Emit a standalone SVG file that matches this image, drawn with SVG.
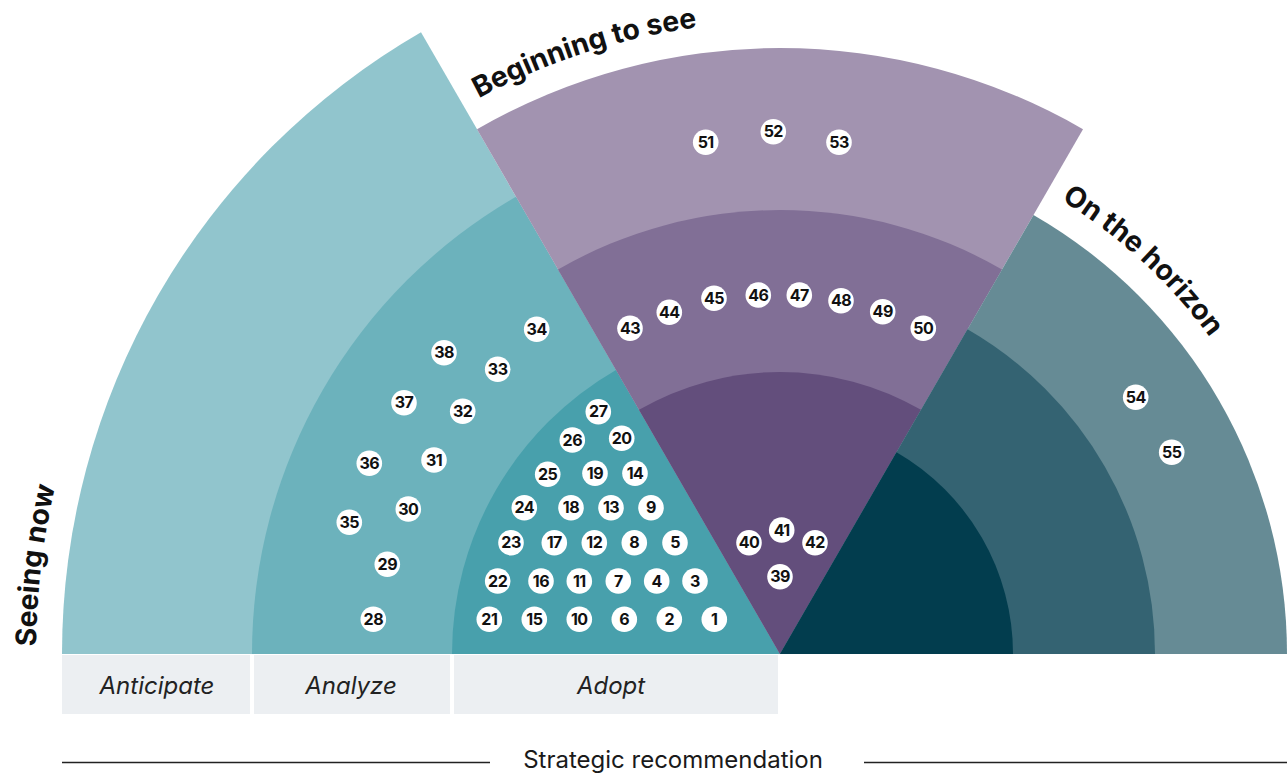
<svg xmlns="http://www.w3.org/2000/svg" width="1287" height="774" viewBox="0 0 1287 774">
<style>
.dot{fill:#fff}
.num{font-family:Inter,"Liberation Sans",sans-serif;font-weight:700;font-size:16px;fill:#111;text-anchor:middle;letter-spacing:-0.5px}
.lbl{font-family:Inter,"Liberation Sans",sans-serif;font-weight:700;font-size:28.4px;fill:#111}
.col{font-family:Inter,"Liberation Sans",sans-serif;font-style:italic;font-size:24px;fill:#222;text-anchor:middle}
.box{fill:#eceff2}
.ax{font-family:Inter,"Liberation Sans",sans-serif;font-size:24px;fill:#1a1a1a;text-anchor:middle}
</style>
<defs>
<path id="arcSee" d="M96.2,947.1 A744,744 0 0,1 184.3,208.3"/>
<path id="arcBeg" d="M310.3,231.1 A632,632 0 0,1 911.4,35.8"/>
<path id="arcHor" d="M897.4,133.1 A534,534 0 0,1 1289.9,495.2"/>
</defs>
<g id="sector-seeing-now">
<path d="M780,654 L62,654 A718,718 0 0,1 421,32.2 Z" fill="#91c5cd"/>
<path d="M780,654 L252,654 A528,528 0 0,1 516,196.7 Z" fill="#6cb2bc"/>
<path d="M780,654 L452,654 A328,328 0 0,1 616,369.9 Z" fill="#48a0ac"/>
</g>
<g id="sector-beginning">
<path d="M780,654 L477,129.2 A606,606 0 0,1 1083,129.2 Z" fill="#a293b0"/>
<path d="M780,654 L558,269.5 A444,444 0 0,1 1002,269.5 Z" fill="#816f96"/>
<path d="M780,654 L639,409.8 A282,282 0 0,1 921,409.8 Z" fill="#634e7c"/>
</g>
<g id="sector-horizon">
<path d="M780,654 L1033.5,214.9 A507,507 0 0,1 1287,654 Z" fill="#668b95"/>
<path d="M780,654 L967.5,329.2 A375,375 0 0,1 1155,654 Z" fill="#346372"/>
<path d="M780,654 L896.5,452.2 A233,233 0 0,1 1013,654 Z" fill="#023d4e"/>
</g>
<g id="labels">
<text class="lbl" text-anchor="middle"><textPath href="#arcSee" startOffset="50%">Seeing now</textPath></text>
<text class="lbl" text-anchor="middle"><textPath href="#arcBeg" startOffset="50%">Beginning to see</textPath></text>
<text class="lbl" text-anchor="middle"><textPath href="#arcHor" startOffset="50%">On the horizon</textPath></text>
</g>
<g id="columns">
<rect class="box" x="62" y="655" width="188" height="59"/>
<rect class="box" x="254" y="655" width="196" height="59"/>
<rect class="box" x="454" y="655" width="324" height="59"/>
<text class="col" x="157" y="694">Anticipate</text>
<text class="col" x="351" y="694">Analyze</text>
<text class="col" x="611" y="694">Adopt</text>
</g>
<g id="connectors">
<line x1="62" y1="762.5" x2="490" y2="762.5" stroke="#222" stroke-width="1.3"/>
<line x1="864" y1="762.5" x2="1287" y2="762.5" stroke="#222" stroke-width="1.3"/>
</g>
<text class="ax" x="673" y="768">Strategic recommendation</text>
<g id="points">
<g id="n1"><circle class="dot" cx="714.3" cy="619.3" r="12.8"/><text class="num" x="714.3" y="625">1</text></g>
<g id="n2"><circle class="dot" cx="669.3" cy="619.3" r="12.8"/><text class="num" x="669.3" y="625">2</text></g>
<g id="n3"><circle class="dot" cx="695" cy="581" r="12.8"/><text class="num" x="695" y="586.7">3</text></g>
<g id="n4"><circle class="dot" cx="656.7" cy="581" r="12.8"/><text class="num" x="656.7" y="586.7">4</text></g>
<g id="n5"><circle class="dot" cx="675" cy="542.7" r="12.8"/><text class="num" x="675" y="548.4">5</text></g>
<g id="n6"><circle class="dot" cx="624.3" cy="619.3" r="12.8"/><text class="num" x="624.3" y="625">6</text></g>
<g id="n7"><circle class="dot" cx="618.3" cy="581" r="12.8"/><text class="num" x="618.3" y="586.7">7</text></g>
<g id="n8"><circle class="dot" cx="634.3" cy="542.7" r="12.8"/><text class="num" x="634.3" y="548.4">8</text></g>
<g id="n9"><circle class="dot" cx="651" cy="507.7" r="12.8"/><text class="num" x="651" y="513.4">9</text></g>
<g id="n10"><circle class="dot" cx="579.3" cy="619.3" r="12.8"/><text class="num" x="579.3" y="625">10</text></g>
<g id="n11"><circle class="dot" cx="579.3" cy="581" r="12.8"/><text class="num" x="579.3" y="586.7">11</text></g>
<g id="n12"><circle class="dot" cx="594.3" cy="542.7" r="12.8"/><text class="num" x="594.3" y="548.4">12</text></g>
<g id="n13"><circle class="dot" cx="611" cy="507.7" r="12.8"/><text class="num" x="611" y="513.4">13</text></g>
<g id="n14"><circle class="dot" cx="635" cy="473.3" r="12.8"/><text class="num" x="635" y="479">14</text></g>
<g id="n15"><circle class="dot" cx="534.3" cy="619.3" r="12.8"/><text class="num" x="534.3" y="625">15</text></g>
<g id="n16"><circle class="dot" cx="541" cy="581" r="12.8"/><text class="num" x="541" y="586.7">16</text></g>
<g id="n17"><circle class="dot" cx="554.3" cy="542.7" r="12.8"/><text class="num" x="554.3" y="548.4">17</text></g>
<g id="n18"><circle class="dot" cx="571" cy="507.7" r="12.8"/><text class="num" x="571" y="513.4">18</text></g>
<g id="n19"><circle class="dot" cx="595" cy="473.3" r="12.8"/><text class="num" x="595" y="479">19</text></g>
<g id="n20"><circle class="dot" cx="621.7" cy="438.3" r="12.8"/><text class="num" x="621.7" y="444">20</text></g>
<g id="n21"><circle class="dot" cx="489.3" cy="619.3" r="12.8"/><text class="num" x="489.3" y="625">21</text></g>
<g id="n22"><circle class="dot" cx="497.7" cy="581" r="12.8"/><text class="num" x="497.7" y="586.7">22</text></g>
<g id="n23"><circle class="dot" cx="511" cy="542.7" r="12.8"/><text class="num" x="511" y="548.4">23</text></g>
<g id="n24"><circle class="dot" cx="524.3" cy="507.7" r="12.8"/><text class="num" x="524.3" y="513.4">24</text></g>
<g id="n25"><circle class="dot" cx="547.7" cy="474.3" r="12.8"/><text class="num" x="547.7" y="480">25</text></g>
<g id="n26"><circle class="dot" cx="572.3" cy="440" r="12.8"/><text class="num" x="572.3" y="445.7">26</text></g>
<g id="n27"><circle class="dot" cx="598.3" cy="411.7" r="12.8"/><text class="num" x="598.3" y="417.4">27</text></g>
<g id="n28"><circle class="dot" cx="373.3" cy="619.3" r="12.8"/><text class="num" x="373.3" y="625">28</text></g>
<g id="n29"><circle class="dot" cx="387.3" cy="564.3" r="12.8"/><text class="num" x="387.3" y="570">29</text></g>
<g id="n30"><circle class="dot" cx="408.3" cy="509" r="12.8"/><text class="num" x="408.3" y="514.7">30</text></g>
<g id="n31"><circle class="dot" cx="434" cy="460" r="12.8"/><text class="num" x="434" y="465.7">31</text></g>
<g id="n32"><circle class="dot" cx="462.7" cy="411.3" r="12.8"/><text class="num" x="462.7" y="417">32</text></g>
<g id="n33"><circle class="dot" cx="497.7" cy="369.3" r="12.8"/><text class="num" x="497.7" y="375">33</text></g>
<g id="n34"><circle class="dot" cx="536.7" cy="329.3" r="12.8"/><text class="num" x="536.7" y="335">34</text></g>
<g id="n35"><circle class="dot" cx="349.3" cy="522.3" r="12.8"/><text class="num" x="349.3" y="528">35</text></g>
<g id="n36"><circle class="dot" cx="369.3" cy="463.3" r="12.8"/><text class="num" x="369.3" y="469">36</text></g>
<g id="n37"><circle class="dot" cx="404" cy="402.7" r="12.8"/><text class="num" x="404" y="408.4">37</text></g>
<g id="n38"><circle class="dot" cx="444" cy="352.7" r="12.8"/><text class="num" x="444" y="358.4">38</text></g>
<g id="n39"><circle class="dot" cx="780" cy="576.7" r="12.8"/><text class="num" x="780" y="582.4">39</text></g>
<g id="n40"><circle class="dot" cx="749" cy="542.7" r="12.8"/><text class="num" x="749" y="548.4">40</text></g>
<g id="n41"><circle class="dot" cx="781.7" cy="530" r="12.8"/><text class="num" x="781.7" y="535.7">41</text></g>
<g id="n42"><circle class="dot" cx="815" cy="542.7" r="12.8"/><text class="num" x="815" y="548.4">42</text></g>
<g id="n43"><circle class="dot" cx="630" cy="328.3" r="12.8"/><text class="num" x="630" y="334">43</text></g>
<g id="n44"><circle class="dot" cx="669.3" cy="312.3" r="12.8"/><text class="num" x="669.3" y="318">44</text></g>
<g id="n45"><circle class="dot" cx="714" cy="298.3" r="12.8"/><text class="num" x="714" y="304">45</text></g>
<g id="n46"><circle class="dot" cx="758.3" cy="295" r="12.8"/><text class="num" x="758.3" y="300.7">46</text></g>
<g id="n47"><circle class="dot" cx="799.3" cy="295" r="12.8"/><text class="num" x="799.3" y="300.7">47</text></g>
<g id="n48"><circle class="dot" cx="841" cy="300.7" r="12.8"/><text class="num" x="841" y="306.4">48</text></g>
<g id="n49"><circle class="dot" cx="882.7" cy="311.7" r="12.8"/><text class="num" x="882.7" y="317.4">49</text></g>
<g id="n50"><circle class="dot" cx="923.3" cy="328.3" r="12.8"/><text class="num" x="923.3" y="334">50</text></g>
<g id="n51"><circle class="dot" cx="705.7" cy="142.3" r="12.8"/><text class="num" x="705.7" y="148">51</text></g>
<g id="n52"><circle class="dot" cx="773.3" cy="131.7" r="12.8"/><text class="num" x="773.3" y="137.4">52</text></g>
<g id="n53"><circle class="dot" cx="839" cy="142.3" r="12.8"/><text class="num" x="839" y="148">53</text></g>
<g id="n54"><circle class="dot" cx="1135.7" cy="397.3" r="12.8"/><text class="num" x="1135.7" y="403">54</text></g>
<g id="n55"><circle class="dot" cx="1171.7" cy="452.3" r="12.8"/><text class="num" x="1171.7" y="458">55</text></g>
</g>
</svg>
